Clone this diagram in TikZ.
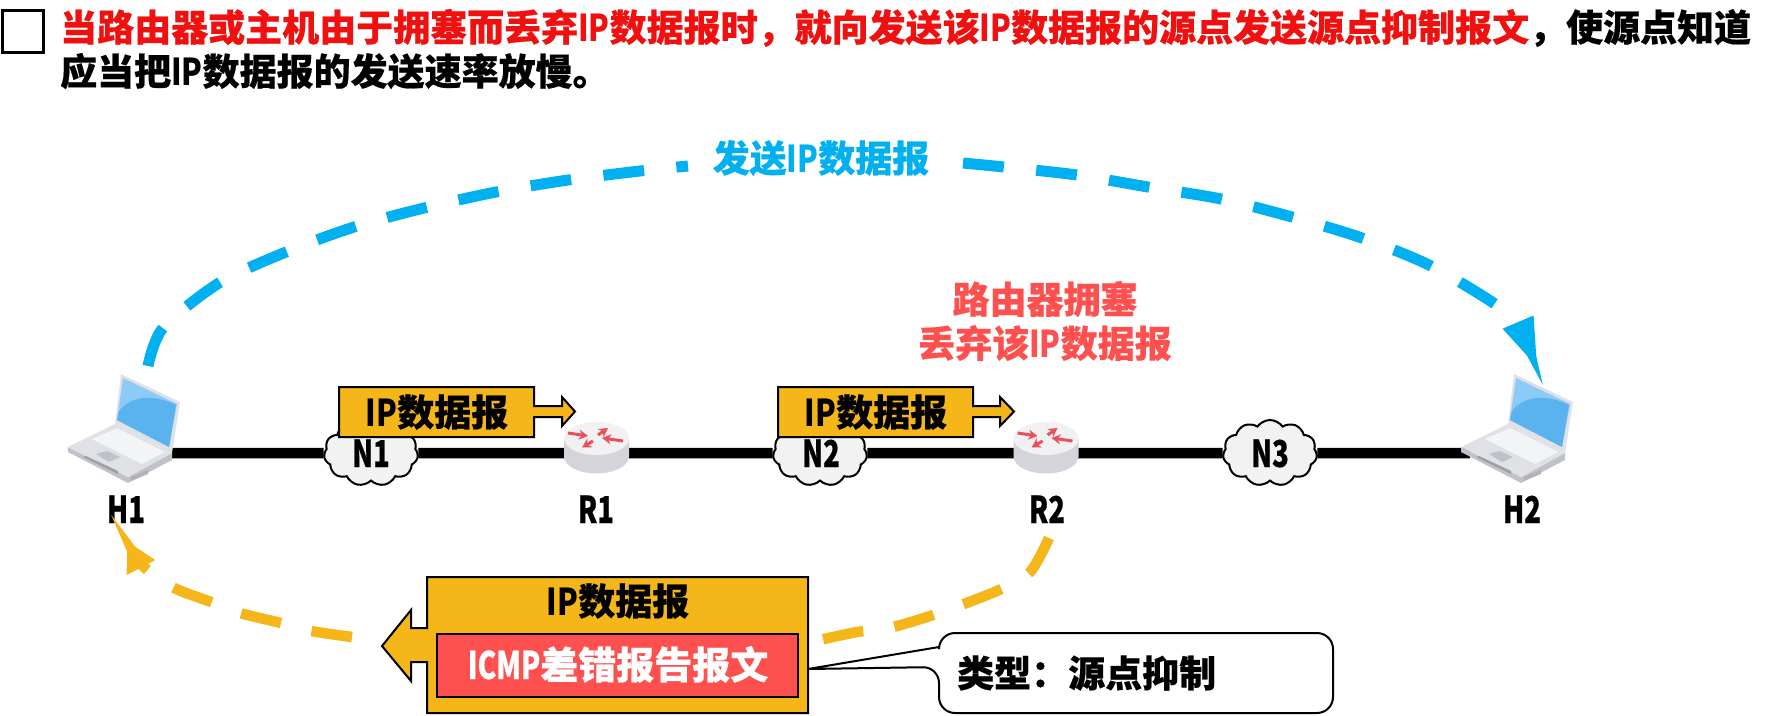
\documentclass[tikz,border=0pt]{standalone}
\usepackage{fontspec}
\setmainfont{Noto Sans CJK SC}[BoldFeatures={FakeBold=0.5}]
\newfontfamily\narf{Noto Sans CJK SC}[FakeStretch=0.74,BoldFeatures={FakeBold=0.5}]
\newfontfamily\ipf{Noto Sans CJK SC}[FakeStretch=0.82]
\newcommand{\IPt}{{\ipf IP}}
\usetikzlibrary{arrows.meta,shapes.symbols,backgrounds}
\definecolor{skyb}{HTML}{00B0F0}
\definecolor{pkt}{HTML}{F4B619}
\definecolor{redbox}{HTML}{FF5050}
\definecolor{titlered}{HTML}{F01010}
\definecolor{cloudf}{HTML}{F2F2F2}
\definecolor{lapa}{HTML}{DFE1E6}
\definecolor{lapb}{HTML}{BFC2C8}
\definecolor{lapk}{HTML}{F3F4F6}
\definecolor{scra}{HTML}{8CCBF5}
\definecolor{scrb}{HTML}{5AB3EF}
\definecolor{rtop}{HTML}{F1F1F3}
\definecolor{rbody}{HTML}{D3D5DA}
\definecolor{rarrow}{HTML}{E8505B}
\tikzset{
  txt/.style={font=\fontsize{37}{44}\selectfont\bfseries,inner sep=0pt,align=center},
  lbl/.style={font=\fontsize{37}{44}\selectfont\bfseries\narf,inner sep=0pt},
  linkline/.style={line width=10.5pt,black},
  netcloud/.style={cloud,cloud puffs=11,cloud puff arc=110,draw=black,line width=2pt,fill=cloudf,
     minimum width=94pt,minimum height=66pt,inner sep=0pt,aspect=1.4},
  pktshape/.style={draw=black,line width=2pt,fill=pkt,line join=miter},
  bluedash/.style={skyb,line width=11pt,dash pattern=on 41pt off 32.5pt},
  yeldash/.style={pkt,line width=10.5pt,dash pattern=on 41pt off 31.5pt},
  laptop/.pic={
    % screen
    \fill[lapa] (121,374)--(180,402)--(172,453)--(115,424)--cycle;
    \fill[scra] (123,378)--(177,404)--(169,447)--(117,420)--cycle;
    \fill[scrb] (118.5,412) .. controls (128,398) and (150,392) .. (176,405) -- (169,447)--(117,420)--cycle;
    % base
    \fill[lapb] (68,447)--(68,452)--(128,483)--(172,460)--(172,453)--(128,477)--cycle;
    \fill[lapa] (68,447)--(115,424)--(172,453)--(128,477)--cycle;
    \fill[lapk] (92,439)--(117,428)--(165,452)--(142,464)--cycle;
    \fill[lapb] (96,454)--(107,451)--(120,457)--(109,462)--cycle;
    \fill[gray!75] (83,457)--(86,456)--(118,471)--(118,474)--cycle;
    \fill[gray!60] (131,477)--(148,470)--(148,474)--(131,481)--cycle;
  },
  router/.pic={
    \fill[rbody] (-32.5,0)--(-32.5,18) arc[start angle=180,end angle=360,x radius=32.5,y radius=-17]--(32.5,0)--cycle;
    \fill[rtop] (0,0) ellipse[x radius=32.5,y radius=16.5];
    \draw[rarrow,line width=3pt,-{Stealth[length=9pt,width=10pt]}] (-28.5,-5.5)--(-8.5,-2.5);
    \draw[rarrow,line width=3pt,-{Stealth[length=9pt,width=10pt]}] (1.5,-3.5)--(11.5,-10.5);
    \draw[rarrow,line width=3pt,-{Stealth[length=9pt,width=10pt]}] (26.5,2.5)--(5.5,-0.5);
    \draw[rarrow,line width=3pt,-{Stealth[length=9pt,width=10pt]}] (-3.5,2.5)--(-14.5,9);
  }
}
\begin{document}
\begin{tikzpicture}[x=1pt,y=-1pt]
\useasboundingbox (0,0) rectangle (1783,715);
% title
\node[draw=black,line width=2.5pt,minimum width=41pt,minimum height=42pt,inner sep=0pt,anchor=north west] (chk) at (1,9) {};
\node[anchor=west,inner sep=0pt,align=left,font=\fontsize{37}{44}\selectfont\bfseries] (title) at (60,49)
 {\textcolor{titlered}{当路由器或主机由于拥塞而丢弃\IPt 数据报时，就向发送该\IPt 数据报的源点发送源点抑制报文}，使源点知道\\应当把\IPt 数据报的发送速率放慢。};
% endpoints and routers
\coordinate (H1) at (172,453);
\coordinate (H2) at (1470,453);
\coordinate (R1) at (596.5,453);
\coordinate (R2) at (1046,453);
\node[netcloud] (N1) at (371,453) {};
\node[netcloud] (N2) at (820,453) {};
\node[netcloud] (N3) at (1270,453) {};
\begin{scope}[on background layer]
\draw[linkline] (H1)--(N1)--(R1)--(N2)--(R2)--(N3)--(H2);
\end{scope}
\pic at (0,0) {laptop};
\pic at (1393,0) {laptop};
\pic at (596.5,438.5) {router};
\pic at (1046,438.5) {router};
\node[lbl,anchor=base] (N1t) at (371,467) {N1};
\node[lbl,anchor=base] (N2t) at (821,467) {N2};
\node[lbl,anchor=base] (N3t) at (1270,467) {N3};
\node[lbl,anchor=base] (H1t) at (126,523) {H1};
\node[lbl,anchor=base] (R1t) at (596,523) {R1};
\node[lbl,anchor=base] (R2t) at (1047,523) {R2};
\node[lbl,anchor=base] (H2t) at (1522,523) {H2};
% packets on links
\draw[pktshape] (339,387)--(534,387)--(534,406)--(562,406)--(562,397)--(575,411.5)--(562,426)--(562,417)--(534,417)--(534,437)--(339,437)--cycle;
\node[txt,anchor=base] (p1) at (437,426) {\IPt 数据报};
\draw[pktshape] (778,387)--(973,387)--(973,406)--(1000,406)--(1000,397)--(1014,411.5)--(1000,426)--(1000,417)--(973,417)--(973,437)--(778,437)--cycle;
\node[txt,anchor=base] (p2) at (876,426) {\IPt 数据报};
% labels
\node[txt,text=skyb,anchor=base] (send) at (821,172) {发送\IPt 数据报};
\node[txt,text=redbox] (cong) at (1045,321) {路由器拥塞\\丢弃该\IPt 数据报};
% blue arc
\coordinate (bS) at (148,366);
\coordinate (bM1) at (688,166);
\coordinate (bM2) at (963,163);
\coordinate (bE) at (1538,369);
\draw[bluedash] plot[smooth,tension=0.5] coordinates {(bS) (163,328) (219,283) (286,252) (354,227) (424,208) (496,192) (568,180) (640,171) (bM1)};
\draw[bluedash,-{Triangle[length=51pt,width=30pt]}] plot[smooth,tension=0.5] coordinates {(bM2) (1004,167) (1077,175) (1148,187) (1221,199) (1292,217) (1362,238) (1429,265) (1492,302) (1516,323) (bE)};
% orange arc
\coordinate (yS) at (1049,538);
\coordinate (yM1) at (815,641);
\coordinate (yM2) at (352,637);
\coordinate (yE) at (127,541);
\draw[yeldash] plot[smooth,tension=0.5] coordinates {(yS) (1030,572) (999,590) (961,605) (927,617) (889,628) (857,632) (yM1)};
\draw[yeldash,-{Triangle[length=30pt,width=30pt]}] plot[smooth,tension=0.5] coordinates {(yM2) (311,631) (281,623) (240,613) (211,602) (172,587) (143,566) (yE)};
% returned packet
\draw[pktshape] (427,577)--(808,577)--(808,713)--(427,713)--(427,662)--(411,662)--(411,681)--(382,646)--(411,610)--(411,628)--(427,628)--cycle;
\node[txt,anchor=base] (p3) at (618,615) {\IPt 数据报};
\node[draw=black,line width=2pt,fill=redbox,minimum width=361pt,minimum height=63pt,inner sep=0pt] (icmpbox) at (617.5,665.5) {};
\node[txt,text=white,anchor=base,font=\fontsize{38}{44}\selectfont\bfseries] (icmp) at (618,679) {{\narf ICMP}差错报告报文};
% callout
\draw[draw=black,line width=2pt,fill=white,rounded corners=16pt] (939,647)--(939,633)--(1333,633)--(1333,713)--(939,713)--(939,667)[sharp corners]--(808,669)--(939,647);
\node[txt,anchor=base west] (ctype) at (957,687) {类型：源点抑制};
\end{tikzpicture}
\end{document}
